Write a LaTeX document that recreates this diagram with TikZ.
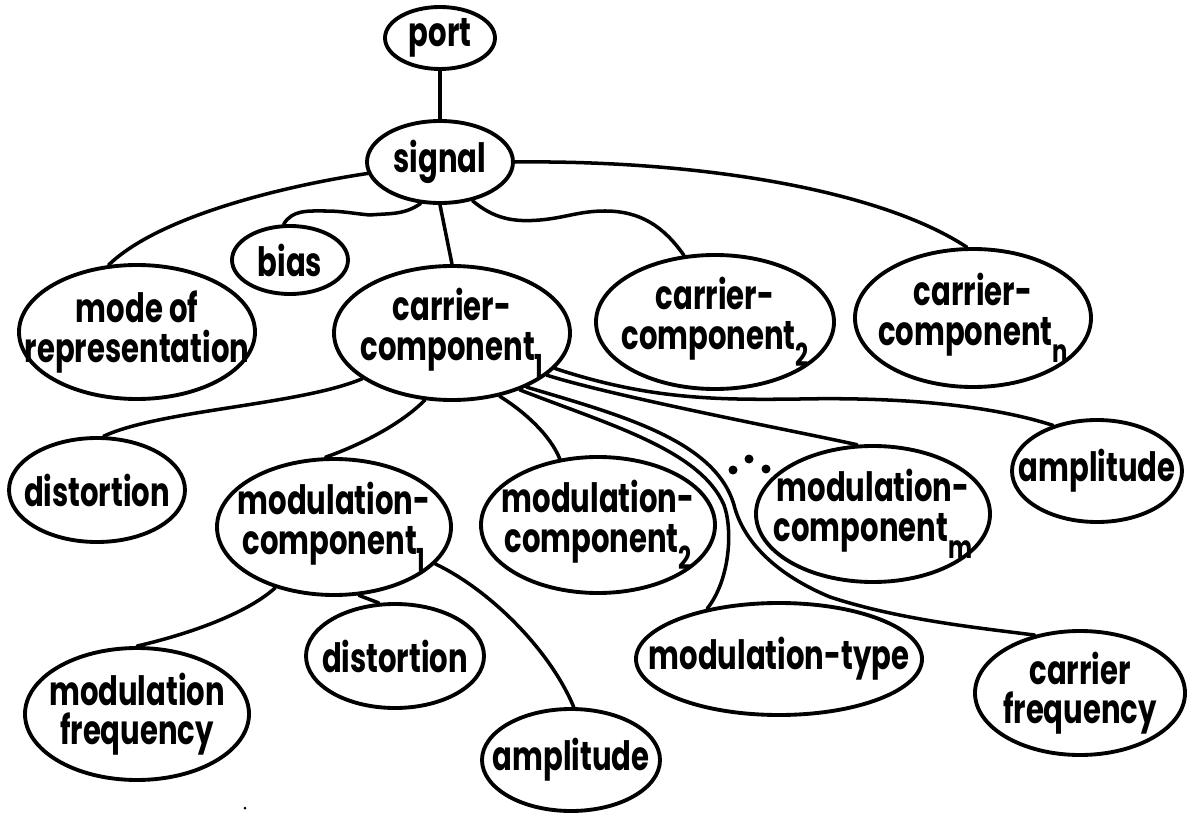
\documentclass[tikz,border=0pt]{standalone}
\usepackage{fontspec}
\setmainfont{Poppins}[FakeStretch=0.72]
\usetikzlibrary{shapes.geometric}
\newcommand\subs[1]{\raisebox{-0.42em}{\fontsize{18}{18}\selectfont #1}}
\tikzset{
  ell/.style 2 args={draw, ellipse, line width=2.2pt, minimum width=#1*0.02cm, minimum height=#2*0.02cm, inner sep=0pt},
  txt/.style={font=\bfseries\fontsize{23}{22.5}\selectfont, align=center, inner sep=0pt},
  conn/.style={line width=2pt, line cap=round}
}
\begin{document}
\begin{tikzpicture}[x=0.02cm, y=-0.02cm]
\fill[white] (0,0) rectangle (1187,814);
\useasboundingbox (0,0) rectangle (1187,814);
% ellipses
\node[ell={110}{62}] (port) at (440,38) {};
\node[ell={146}{82}] (signal) at (440,162) {};
\node[ell={116}{68}] (bias) at (290,260) {};
\node[ell={236}{134}] (mode) at (137,332) {};
\node[ell={236}{134}] (cc1) at (452,333) {};
\node[ell={238}{134}] (cc2) at (715,322) {};
\node[ell={236}{138}] (ccn) at (973,318) {};
\node[ell={176}{104}] (distL) at (97,490) {};
\node[ell={234}{136}] (mc1) at (334,527) {};
\node[ell={234}{136}] (mc2) at (598,525) {};
\node[ell={234}{136}] (mcm) at (873,514) {};
\node[ell={170}{102}] (ampR) at (1097,471) {};
\node[ell={224}{132}] (mfreq) at (137,714) {};
\node[ell={178}{104}] (distM) at (395,656) {};
\node[ell={178}{102}] (ampM) at (571,760) {};
\node[ell={286}{112}] (mtype) at (779,659) {};
\node[ell={210}{124}] (cfreq) at (1080,693) {};
% texts
\node[txt] (portt) at (port) {port};
\node[txt] (signalt) at (signal) {signal};
\node[txt] (biast) at (bias) {bias};
\node[txt] (modet) at (mode) {mode of\\representation};
\node[txt] (cc1t) at (cc1) {carrier-\\component\subs{1}};
\node[txt] (cc2t) at (cc2) {carrier-\\component\subs{2}};
\node[txt] (ccnt) at (ccn) {carrier-\\component\subs{n}};
\node[txt] (distLt) at (distL) {distortion};
\node[txt] (mc1t) at (mc1) {modulation-\\component\subs{1}};
\node[txt] (mc2t) at (mc2) {modulation-\\component\subs{2}};
\node[txt] (mcmt) at (mcm) {modulation-\\component\subs{m}};
\node[txt] (ampRt) at (ampR) {amplitude};
\node[txt] (mfreqt) at (mfreq) {modulation\\frequency};
\node[txt] (distMt) at (distM) {distortion};
\node[txt] (ampMt) at (ampM) {amplitude};
\node[txt] (mtypet) at (mtype) {modulation-type};
\node[txt] (cfreqt) at (cfreq) {carrier\\frequency};
% connectors
\draw[conn] (port.south) -- (signal.north);
\draw[conn] (signal.south) -- (cc1.north);
\draw[conn] (signal.189) .. controls (290,185) and (160,215) .. (mode.113);
\draw[conn] (signal.245) to[out=215,in=5] (370,215) to[out=175,in=0] (325,211) to[out=180,in=60] (bias.100);
\draw[conn] (signal.-50) to[out=-40,in=185] (540,220) to[out=5,in=180] (605,211) to[out=0,in=125] (cc2.115);
\draw[conn] (signal.east) .. controls (700,160) and (880,190) .. (ccn.95);
\draw[conn] (cc1.207) .. controls (300,405) and (160,410) .. (distL.83);
\draw[conn] (cc1.248) .. controls (400,425) and (360,445) .. (mc1.97);
\draw[conn] (cc1.-53) .. controls (525,412) and (550,435) .. (mc2.120);
\draw[conn] (cc1.-40) .. controls (610,425) and (700,450) .. (724,505) .. controls (733,530) and (730,580) .. (mtype.145);
\draw[conn] (cc1.-36) .. controls (620,415) and (715,440) .. (734,505) .. controls (742,537) and (770,572) .. (830,597) .. controls (900,620) and (980,628) .. (cfreq.128);
\draw[conn] (cc1.-24) .. controls (620,398) and (800,432) .. (mcm.103);
\draw[conn] (cc1.-19) .. controls (650,400) and (720,400) .. (800,399) .. controls (900,397) and (990,405) .. (ampR.134);
\draw[conn] (mc1.226) .. controls (245,615) and (185,635) .. (mfreq.north);
\draw[conn] (mc1.-70) -- (distM.107);
\draw[conn] (mc1.-20) .. controls (490,590) and (550,650) .. (ampM.87);
% dots
\fill (733,470) circle (4.5);
\fill (749,459) circle (4.5);
\fill (766,469) circle (4.5);
\fill (245,808) circle (1.5);
\end{tikzpicture}
\end{document}
